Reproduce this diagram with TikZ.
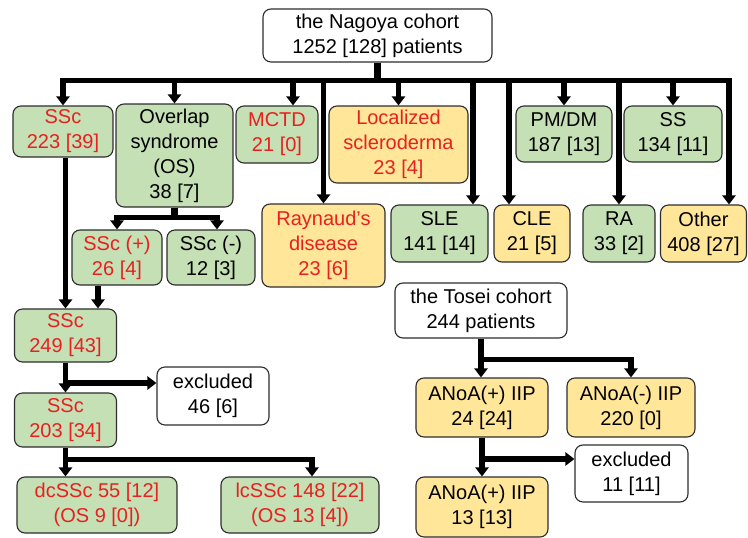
\documentclass[tikz,border=0pt]{standalone}
\usepackage{fontspec}
\setmainfont{Liberation Sans}
\usetikzlibrary{arrows.meta}

\definecolor{boxgreen}{RGB}{197,224,180}
\definecolor{boxyellow}{RGB}{255,230,153}
\definecolor{txtred}{RGB}{232,32,32}
\definecolor{boxline}{RGB}{45,45,45}

\tikzset{
  box/.style={draw=boxline, line width=1.1pt, rounded corners=8pt, align=center,
    inner sep=0pt, font=\fontsize{20}{25}\selectfont},
  gbox/.style={box, fill=boxgreen},
  ybox/.style={box, fill=boxyellow},
  wbox/.style={box, fill=white},
  arr/.style={line width=5.6pt, -{Triangle[width=13pt,length=9pt]}},
  stem/.style={line width=7pt}
}

\begin{document}
\begin{tikzpicture}[x=1pt,y=-1pt]
\useasboundingbox (0,0) rectangle (748,538);

% Nagoya cohort
\node[wbox, minimum width=229pt, minimum height=53pt] (nagoya) at (377.5,35.5) {the Nagoya cohort\\1252 [128] patients};

% first row
\node[gbox, text=txtred, minimum width=100pt, minimum height=51pt] (sscA) at (63,131.5) {SSc\\223 [39]};
\node[gbox, minimum width=117pt, minimum height=103pt] (os) at (174.5,155.5) {Overlap\\syndrome\\(OS)\\38 [7]};
\node[gbox, text=txtred, minimum width=82pt, minimum height=57pt] (mctd) at (277,134.5) {MCTD\\21 [0]};
\node[ybox, text=txtred, minimum width=139pt, minimum height=77pt] (loc) at (398.5,144.5) {Localized\\scleroderma\\23 [4]};
\node[gbox, minimum width=96pt, minimum height=56pt] (pmdm) at (564,134) {PM/DM\\187 [13]};
\node[gbox, minimum width=98pt, minimum height=56pt] (ss) at (673,134) {SS\\134 [11]};

% second row
\node[ybox, text=txtred, minimum width=123pt, minimum height=83pt] (rayn) at (323.5,245.5) {Raynaud’s\\disease\\23 [6]};
\node[gbox, minimum width=97pt, minimum height=57pt] (sle) at (439.5,233.5) {SLE\\141 [14]};
\node[ybox, minimum width=76pt, minimum height=57pt] (cle) at (532,233.5) {CLE\\21 [5]};
\node[gbox, minimum width=72pt, minimum height=57pt] (ra) at (619,233.5) {RA\\33 [2]};
\node[ybox, minimum width=86pt, minimum height=57pt] (other) at (703.5,233.5) {Other\\408 [27]};

% overlap syndrome split
\node[gbox, text=txtred, minimum width=90pt, minimum height=55pt] (sscp) at (117,257.5) {SSc (+)\\26 [4]};
\node[gbox, minimum width=88pt, minimum height=55pt] (sscm) at (211,257.5) {SSc (-)\\12 [3]};

% SSc chain
\node[gbox, text=txtred, minimum width=102pt, minimum height=53pt] (sscB) at (65.5,335.5) {SSc\\249 [43]};
\node[wbox, minimum width=112pt, minimum height=58pt] (exclA) at (213,396) {excluded\\46 [6]};
\node[gbox, text=txtred, minimum width=102pt, minimum height=54pt] (sscC) at (65.5,420) {SSc\\203 [34]};
\node[gbox, text=txtred, minimum width=160pt, minimum height=56pt] (dc) at (97,505) {dcSSc 55 [12]\\(OS 9 [0])};
\node[gbox, text=txtred, minimum width=158pt, minimum height=56pt] (lc) at (300,505) {lcSSc 148 [22]\\(OS 13 [4])};

% Tosei cohort
\node[wbox, minimum width=172pt, minimum height=55pt] (tosei) at (481,310.5) {the Tosei cohort\\244 patients};
\node[ybox, minimum width=132pt, minimum height=59pt] (anpA) at (482,407.5) {ANoA(+) IIP\\24 [24]};
\node[ybox, minimum width=128pt, minimum height=59pt] (anm) at (631,407.5) {ANoA(-) IIP\\220 [0]};
\node[wbox, minimum width=113pt, minimum height=57pt] (exclB) at (631.5,473.5) {excluded\\11 [11]};
\node[ybox, minimum width=132pt, minimum height=60pt] (anpB) at (482,507) {ANoA(+) IIP\\13 [13]};

% entry points off the box centres
\coordinate (mctdin) at ([xshift=16]mctd.north);
\coordinate (slein) at ([xshift=33.5]sle.north);
\coordinate (clein) at ([xshift=-23]cle.north);
\coordinate (otherin) at ([xshift=25.5]other.north);
\coordinate (sscmin) at ([xshift=6]sscm.north);
\coordinate (sscpout) at ([xshift=-19]sscp.south);
\coordinate (lcin) at ([xshift=12]lc.north);
\coordinate (exclAin) at ([yshift=13]exclA.west);
\coordinate (exclBin) at ([yshift=14.5]exclB.west);

% Nagoya bus
\path (nagoya.south) ++(0,18) coordinate (nbus);
\draw[stem] (nagoya.south) -- (nbus);
\draw[arr] (nbus) -| (sscA.north);
\draw[arr] (nbus) -| (otherin);
\draw[arr] (os.north |- nbus) -- (os.north);
\draw[arr] (mctdin |- nbus) -- (mctdin);
\draw[arr] (rayn.north |- nbus) -- (rayn.north);
\draw[arr] (loc.north |- nbus) -- (loc.north);
\draw[arr] (slein |- nbus) -- (slein);
\draw[arr] (clein |- nbus) -- (clein);
\draw[arr] (pmdm.north |- nbus) -- (pmdm.north);
\draw[arr] (ra.north |- nbus) -- (ra.north);
\draw[arr] (ss.north |- nbus) -- (ss.north);

% overlap syndrome
\path (os.south) ++(0,10) coordinate (osbus);
\draw[stem] (os.south) -- (osbus);
\draw[arr] (osbus) -| (sscp.north);
\draw[arr] (osbus) -| (sscmin);

% SSc
\draw[arr] (sscA.south -| sscB.north) -- (sscB.north);
\draw[arr] (sscpout) -- (sscpout |- sscB.north);
\draw[arr] (sscB.south) -- (sscC.north);
\draw[arr] (sscB.south |- exclAin) -- (exclAin);
\path (sscC.south) ++(0,12) coordinate (sscbus);
\draw[arr] (sscC.south) -- (sscC.south |- dc.north);
\draw[arr] (sscbus) -| (lcin);

% Tosei
\path (tosei.south) ++(0,21) coordinate (tbus);
\draw[arr] (tosei.south) -- (tosei.south |- anpA.north);
\draw[arr] (tbus) -| (anm.north);
\draw[arr] (anpA.south) -- (anpB.north);
\draw[arr] (anpA.south |- exclBin) -- (exclBin);
\end{tikzpicture}
\end{document}
